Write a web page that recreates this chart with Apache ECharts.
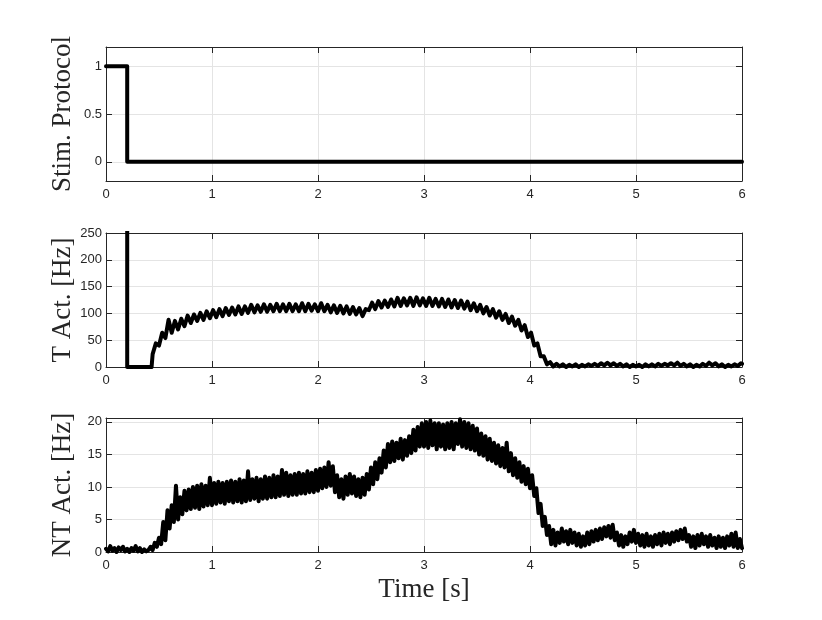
<!DOCTYPE html>
<html>
<head>
<meta charset="utf-8">
<script src="https://cdn.jsdelivr.net/npm/echarts@6/dist/echarts.min.js"></script>
<style>html,body{margin:0;padding:0;background:#fff;}#c{width:822px;height:620px;}</style>
</head>
<body>
<div id="c"></div>
<script>
// ---- tick labels ----
const xTicks = [0, 1, 2, 3, 4, 5, 6];
const stimTicks = [0, 0.5, 1];
const tTicks = [0, 50, 100, 150, 200, 250];
const ntTicks = [0, 5, 10, 15, 20];

// ---- Stim. Protocol [time, value] ----
const stimProtocol = [[0, 1], [0.2, 1], [0.2, 0], [6, 0]];

// ---- T Act. [Hz] [time, value] (300 = off the top of the scale) ----
const tActivity = [
  [0, 300], [0.2, 300], [0.2, 0], [0.43, 0],
  [0.44, 24], [0.47, 44], [0.50, 40], [0.53, 64], [0.56, 54], [0.59, 88], [0.62, 64], [0.65, 86], [0.68, 70], [0.71, 90],
  [0.74, 76], [0.77, 96], [0.80, 82], [0.83, 98], [0.86, 86], [0.89, 101], [0.92, 88], [0.95, 104], [0.98, 91], [1.01, 106],
  [1.04, 93], [1.07, 108], [1.10, 95], [1.13, 110], [1.16, 97], [1.19, 111], [1.22, 98], [1.25, 113], [1.28, 99], [1.31, 113],
  [1.34, 101], [1.37, 116], [1.40, 102], [1.43, 115], [1.46, 103], [1.49, 117], [1.52, 103], [1.55, 116], [1.58, 104], [1.61, 118],
  [1.64, 104], [1.67, 117], [1.70, 104], [1.73, 118], [1.76, 104], [1.79, 117], [1.82, 104], [1.85, 119], [1.88, 104], [1.91, 118],
  [1.94, 105], [1.97, 117], [2.00, 104], [2.03, 119], [2.06, 104], [2.09, 116], [2.12, 102], [2.15, 115], [2.18, 101], [2.21, 114],
  [2.24, 100], [2.27, 113], [2.30, 99], [2.33, 112], [2.36, 98], [2.39, 110], [2.42, 95], [2.45, 108], [2.48, 106], [2.51, 120],
  [2.54, 108], [2.57, 123], [2.60, 111], [2.63, 124], [2.66, 112], [2.69, 126], [2.72, 113], [2.75, 129], [2.78, 114], [2.81, 128],
  [2.84, 115], [2.87, 129], [2.90, 114], [2.93, 130], [2.96, 115], [2.99, 128], [3.02, 114], [3.05, 129], [3.08, 114], [3.11, 127],
  [3.14, 113], [3.17, 127], [3.20, 112], [3.23, 126], [3.26, 111], [3.29, 125], [3.32, 110], [3.35, 124], [3.38, 109], [3.41, 122],
  [3.44, 106], [3.47, 119], [3.50, 104], [3.53, 116], [3.56, 100], [3.59, 112], [3.62, 96], [3.65, 108], [3.68, 92], [3.71, 104],
  [3.74, 88], [3.77, 99], [3.80, 82], [3.83, 94], [3.86, 77], [3.89, 88], [3.92, 68], [3.95, 78], [3.98, 56], [4.01, 64],
  [4.04, 40], [4.07, 44], [4.10, 20], [4.13, 20], [4.16, 5], [4.19, 9], [4.22, 1], [4.25, 6], [4.28, 1], [4.31, 5],
  [4.34, 0], [4.37, 4], [4.40, 1], [4.43, 5], [4.46, 0], [4.49, 4], [4.52, 1], [4.55, 5], [4.58, 2], [4.61, 6],
  [4.64, 2], [4.67, 7], [4.70, 3], [4.73, 8], [4.76, 3], [4.79, 7], [4.82, 2], [4.85, 6], [4.88, 1], [4.91, 5],
  [4.94, 0], [4.97, 4], [5.00, 1], [5.03, 4], [5.06, 0], [5.09, 5], [5.12, 1], [5.15, 5], [5.18, 1], [5.21, 6],
  [5.24, 2], [5.27, 6], [5.30, 3], [5.33, 7], [5.36, 3], [5.39, 8], [5.42, 2], [5.45, 6], [5.48, 1], [5.51, 5],
  [5.54, 0], [5.57, 4], [5.60, 1], [5.63, 6], [5.66, 2], [5.69, 8], [5.72, 3], [5.75, 7], [5.78, 1], [5.81, 5],
  [5.84, 0], [5.87, 4], [5.90, 1], [5.93, 5], [5.96, 2], [5.99, 7], [6.00, 6]
];

// ---- NT Act. [Hz] [time, value] ----
const ntActivity = [
  [0.00, 0.5], [0.02, 0.1], [0.04, 0.9], [0.06, 0.2], [0.08, 0.6], [0.10, 0.0], [0.12, 0.7], [0.14, 0.3], [0.16, 0.8], [0.18, 0.1],
  [0.20, 0.5], [0.22, 0.0], [0.24, 0.6], [0.26, 0.2], [0.28, 0.9], [0.30, 0.1], [0.32, 0.6], [0.34, 0.0], [0.36, 0.4], [0.38, 0.1],
  [0.40, 0.3], [0.42, 0.8], [0.44, 0.3], [0.46, 1.4], [0.48, 0.8], [0.50, 2.2], [0.52, 1.2], [0.54, 4.6], [0.56, 1.8], [0.58, 6.4],
  [0.60, 3.6], [0.62, 7.2], [0.64, 4.6], [0.66, 10.2], [0.68, 5.0], [0.70, 8.4], [0.72, 5.8], [0.74, 9.4], [0.76, 6.4], [0.78, 9.6],
  [0.80, 6.6], [0.82, 10.0], [0.84, 6.8], [0.86, 10.2], [0.88, 6.6], [0.90, 10.4], [0.92, 7.0], [0.94, 10.2], [0.96, 7.2], [0.98, 11.4],
  [1.00, 7.2], [1.02, 10.6], [1.04, 7.4], [1.06, 10.8], [1.08, 7.6], [1.10, 10.6], [1.12, 7.4], [1.14, 10.8], [1.16, 7.8], [1.18, 11.0],
  [1.20, 7.6], [1.22, 10.8], [1.24, 7.8], [1.26, 11.2], [1.28, 7.6], [1.30, 11.0], [1.32, 7.8], [1.34, 12.4], [1.36, 8.0], [1.38, 11.2],
  [1.40, 8.2], [1.42, 11.4], [1.44, 7.8], [1.46, 11.2], [1.48, 8.2], [1.50, 11.6], [1.52, 8.2], [1.54, 11.4], [1.56, 8.4], [1.58, 11.8],
  [1.60, 8.4], [1.62, 11.6], [1.64, 8.6], [1.66, 12.6], [1.68, 8.8], [1.70, 12.2], [1.72, 8.6], [1.74, 11.8], [1.76, 8.8], [1.78, 12.0],
  [1.80, 8.8], [1.82, 12.2], [1.84, 9.0], [1.86, 12.0], [1.88, 9.0], [1.90, 12.4], [1.92, 9.2], [1.94, 12.2], [1.96, 9.2], [1.98, 12.6],
  [2.00, 9.4], [2.02, 12.8], [2.04, 9.8], [2.06, 13.0], [2.08, 10.0], [2.10, 13.8], [2.12, 10.2], [2.14, 13.2], [2.16, 9.2], [2.18, 11.8],
  [2.20, 8.4], [2.22, 11.2], [2.24, 8.2], [2.26, 11.6], [2.28, 8.8], [2.30, 12.0], [2.32, 9.0], [2.34, 11.6], [2.36, 8.6], [2.38, 11.2],
  [2.40, 8.4], [2.42, 11.4], [2.44, 8.8], [2.46, 12.0], [2.48, 9.6], [2.50, 13.0], [2.52, 10.4], [2.54, 13.8], [2.56, 11.2], [2.58, 14.4],
  [2.60, 12.2], [2.62, 15.6], [2.64, 13.0], [2.66, 16.6], [2.68, 13.8], [2.70, 17.0], [2.72, 14.0], [2.74, 16.8], [2.76, 14.4], [2.78, 17.4],
  [2.80, 14.2], [2.82, 17.2], [2.84, 14.8], [2.86, 17.8], [2.88, 15.2], [2.90, 18.8], [2.92, 15.6], [2.94, 19.2], [2.96, 16.2], [2.98, 19.8],
  [3.00, 16.2], [3.02, 20.0], [3.04, 16.0], [3.06, 20.2], [3.08, 16.4], [3.10, 19.8], [3.12, 15.8], [3.14, 19.8], [3.16, 16.2], [3.18, 19.6],
  [3.20, 15.8], [3.22, 19.8], [3.24, 16.0], [3.26, 20.0], [3.28, 15.8], [3.30, 19.8], [3.32, 16.6], [3.34, 20.4], [3.36, 16.2], [3.38, 20.0],
  [3.40, 16.0], [3.42, 19.8], [3.44, 15.8], [3.46, 19.4], [3.48, 15.6], [3.50, 19.0], [3.52, 15.0], [3.54, 18.2], [3.56, 14.8], [3.58, 17.8],
  [3.60, 14.2], [3.62, 17.4], [3.64, 14.0], [3.66, 16.8], [3.68, 13.6], [3.70, 16.4], [3.72, 13.2], [3.74, 16.0], [3.76, 13.0], [3.78, 16.8],
  [3.80, 12.4], [3.82, 15.2], [3.84, 11.8], [3.86, 14.4], [3.88, 11.4], [3.90, 13.8], [3.92, 10.8], [3.94, 13.2], [3.96, 10.4], [3.98, 12.8],
  [4.00, 9.8], [4.02, 11.8], [4.04, 8.6], [4.06, 9.8], [4.08, 6.0], [4.10, 7.4], [4.12, 4.0], [4.14, 5.4], [4.16, 2.6], [4.18, 4.0],
  [4.20, 1.2], [4.22, 3.4], [4.24, 1.0], [4.26, 3.0], [4.28, 1.4], [4.30, 3.6], [4.32, 1.6], [4.34, 3.2], [4.36, 1.2], [4.38, 3.4],
  [4.40, 1.4], [4.42, 3.0], [4.44, 1.0], [4.46, 2.8], [4.48, 0.8], [4.50, 2.4], [4.52, 1.0], [4.54, 3.0], [4.56, 1.2], [4.58, 3.2],
  [4.60, 1.6], [4.62, 3.4], [4.64, 1.8], [4.66, 3.6], [4.68, 2.0], [4.70, 3.8], [4.72, 2.4], [4.74, 4.0], [4.76, 2.2], [4.78, 4.2],
  [4.80, 1.8], [4.82, 3.0], [4.84, 1.0], [4.86, 2.6], [4.88, 0.8], [4.90, 2.4], [4.92, 1.2], [4.94, 3.0], [4.96, 1.6], [4.98, 3.4],
  [5.00, 1.4], [5.02, 2.8], [5.04, 1.0], [5.06, 2.6], [5.08, 0.8], [5.10, 2.8], [5.12, 1.0], [5.14, 2.4], [5.16, 0.8], [5.18, 2.6],
  [5.20, 1.2], [5.22, 2.8], [5.24, 1.0], [5.26, 3.0], [5.28, 1.4], [5.30, 2.8], [5.32, 1.2], [5.34, 3.0], [5.36, 1.6], [5.38, 3.2],
  [5.40, 1.8], [5.42, 3.4], [5.44, 2.0], [5.46, 3.6], [5.48, 1.6], [5.50, 2.6], [5.52, 0.8], [5.54, 2.4], [5.56, 0.6], [5.58, 2.6],
  [5.60, 1.0], [5.62, 2.8], [5.64, 1.2], [5.66, 2.4], [5.68, 0.8], [5.70, 2.6], [5.72, 1.0], [5.74, 2.2], [5.76, 0.6], [5.78, 2.4],
  [5.80, 0.8], [5.82, 2.2], [5.84, 0.6], [5.86, 2.4], [5.88, 1.0], [5.90, 2.8], [5.92, 0.8], [5.94, 3.0], [5.96, 0.6], [5.98, 2.0],
  [6.00, 0.6]
];

const AXIS_COLOR = '#262626';
const GRID_COLOR = '#e4e4e4';
const LABEL_FONT = { fontFamily: 'Liberation Sans', fontSize: 13, color: AXIS_COLOR };
const NAME_FONT = { fontFamily: 'Liberation Serif', fontSize: 27, color: AXIS_COLOR };

const panels = [
  { top: 47, height: 134, ymin: -0.2, ymax: 1.2, yticks: stimTicks, yname: 'Stim. Protocol', xname: '' },
  { top: 233, height: 134, ymin: 0, ymax: 250, yticks: tTicks, yname: 'T Act. [Hz]', xname: '' },
  { top: 418, height: 134, ymin: 0, ymax: 20.6, yticks: ntTicks, yname: 'NT Act. [Hz]', xname: 'Time [s]' }
];

const grid = [], xAxis = [], yAxis = [];
panels.forEach((p, g) => {
  grid.push({ left: 106, right: 80, top: p.top, height: p.height, containLabel: false });
  const xMarks = xTicks.filter(v => v > 0 && v < 6);
  const yMarks = p.yticks.filter(v => v > p.ymin && v < p.ymax);
  const tick = (vals) => ({ show: true, inside: true, length: 6, customValues: vals, lineStyle: { color: AXIS_COLOR, width: 1 } });
  const line = { show: true, onZero: false, lineStyle: { color: AXIS_COLOR, width: 1 } };
  xAxis.push({
    type: 'value', gridIndex: g, position: 'bottom', min: 0, max: 6,
    axisLine: line, axisTick: tick(xMarks),
    axisLabel: Object.assign({ show: true, margin: 7, customValues: xTicks }, LABEL_FONT),
    splitLine: { show: true, lineStyle: { color: GRID_COLOR, width: 1 } },
    name: p.xname, nameLocation: 'middle', nameGap: 24, nameMoveOverlap: false, nameTextStyle: NAME_FONT
  });
  xAxis.push({
    type: 'value', gridIndex: g, position: 'top', min: 0, max: 6, z: 3,
    axisLine: line, axisTick: tick(xMarks), axisLabel: { show: false }, splitLine: { show: false }
  });
  yAxis.push({
    type: 'value', gridIndex: g, position: 'left', min: p.ymin, max: p.ymax,
    axisLine: line, axisTick: tick(yMarks),
    axisLabel: Object.assign({ show: true, margin: 4, customValues: p.yticks }, LABEL_FONT),
    splitLine: { show: true, lineStyle: { color: GRID_COLOR, width: 1 } },
    name: p.yname, nameLocation: 'middle', nameGap: 30, nameRotate: 90, nameMoveOverlap: false, nameTextStyle: NAME_FONT
  });
  yAxis.push({
    type: 'value', gridIndex: g, position: 'right', min: p.ymin, max: p.ymax, z: 3,
    axisLine: line, axisTick: tick(yMarks), axisLabel: { show: false }, splitLine: { show: false }
  });
});

const lineStyle = { color: '#000', width: 4, join: 'round', cap: 'round' };
const series = [
  { type: 'line', xAxisIndex: 0, yAxisIndex: 0, data: stimProtocol },
  { type: 'line', xAxisIndex: 2, yAxisIndex: 2, data: tActivity },
  { type: 'line', xAxisIndex: 4, yAxisIndex: 4, data: ntActivity }
].map(s => Object.assign(s, { symbol: 'none', lineStyle: lineStyle, clip: true, silent: true }));

const chart = echarts.init(document.getElementById('c'), null, { renderer: 'canvas' });
chart.setOption({ animation: false, backgroundColor: '#fff', grid, xAxis, yAxis, series });
</script>
</body>
</html>
